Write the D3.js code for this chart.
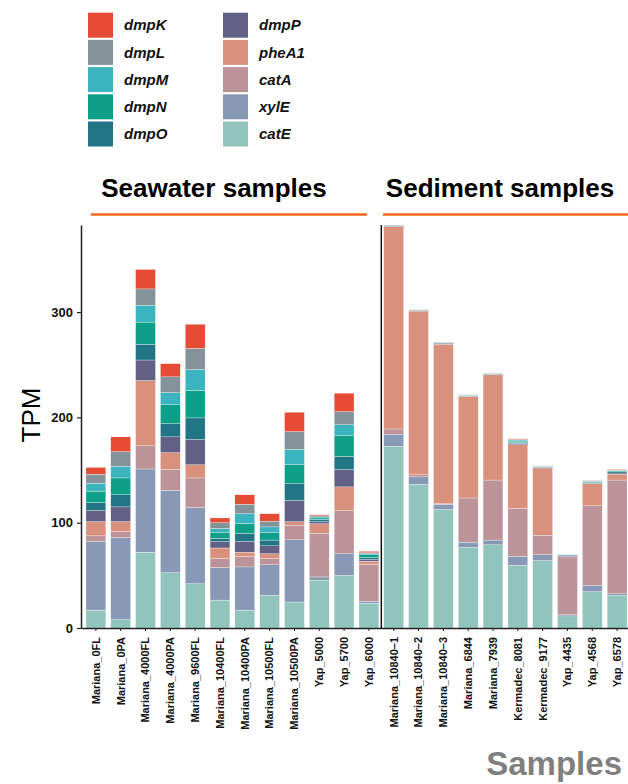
<!DOCTYPE html>
<html>
<head>
<meta charset="utf-8">
<script src="https://cdn.jsdelivr.net/npm/d3@7"></script>
<style>
  body { margin: 0; background: #fff; }
  svg { display: block; font-family: "Liberation Sans", Arial, Helvetica, sans-serif; }
</style>
</head>
<body>
<svg id="chart" width="628" height="784"></svg>
<script>
// samples, left 12 are seawater, right 10 are sediment
const samples = [
  "Mariana_0FL", "Mariana_0PA", "Mariana_4000FL", "Mariana_4000PA", "Mariana_9600FL",
  "Mariana_10400FL", "Mariana_10400PA", "Mariana_10500FL", "Mariana_10500PA",
  "Yap_5000", "Yap_5700", "Yap_6000",
  "Mariana_10840\u20131", "Mariana_10840\u20132", "Mariana_10840\u20133", "Mariana_6844",
  "Mariana_7939", "Kermadec_8081", "Kermadec_9177", "Yap_4435", "Yap_4568", "Yap_6578"
];
const nSeawater = 12;

// genes in legend order (top of stack first)
const genes = ["dmpK", "dmpL", "dmpM", "dmpN", "dmpO", "dmpP", "pheA1", "catA", "xylE", "catE"];
const geneColors = ["#E64B35", "#84929A", "#3CB4C0", "#0E9F88", "#227585",
                    "#626185", "#D9907D", "#BC9398", "#8799B5", "#91C4BD"];

// TPM per gene, one value per sample (same order as samples)
const catE  = [17, 8, 72, 52.5, 42, 26.5, 17, 31, 24.7, 45.5, 50, 23.5,
               172.5, 136.5, 112.5, 76.5, 79, 59.5, 64, 11.5, 34.5, 31];
const xylE  = [65, 78, 79, 78, 72.5, 31, 41, 29, 59, 3, 20.5, 2,
               11.5, 7, 5, 5, 4.5, 8.5, 5.5, 1, 6, 1.5];
const catA  = [5.5, 5.5, 22, 20, 28, 8.5, 10, 6, 14, 41.5, 41, 35,
               5, 2, 0.5, 42, 57, 45.5, 18.5, 55, 75.5, 108];
const pheA1 = [13.5, 9.5, 62, 16, 12.5, 10, 4, 4.5, 3.2, 9, 22.5, 3,
               192, 155.5, 151.5, 96.5, 100, 60.5, 64, 0.3, 21, 5.5];
const dmpP  = [10.5, 14, 19.5, 15, 24, 6, 10.5, 7.5, 20.3, 2, 16.5, 1.5,
               0.5, 0.4, 1, 0.3, 0.2, 1.3, 0.6, 1, 0.6, 1.2];
const dmpO  = [7.5, 11.5, 15, 12.5, 20.5, 3, 7.5, 5.5, 15.8, 2, 12.5, 2,
               0.3, 0.4, 0.6, 0.4, 0.2, 1, 0.5, 0.6, 0.8, 1.3];
const dmpN  = [11, 16, 21, 18, 26, 6, 9.5, 7.5, 18.1, 1.5, 19.5, 2.5,
               0.2, 0.2, 0.2, 0.4, 0.4, 1.2, 0.3, 0.2, 0.8, 0.8];
const dmpM  = [7.5, 11, 16, 11.5, 20, 3.5, 9, 5, 14.6, 1, 10.5, 1,
               0.1, 0.2, 0.1, 0.2, 0.5, 1, 0.2, 0.1, 0.4, 0.4];
const dmpL  = [8.5, 14, 15.5, 15, 20, 5.5, 9, 5.5, 16.8, 1, 12.5, 1,
               0.5, 0.1, 0.1, 0.2, 0.2, 0.6, 0.2, 0.1, 0.3, 0.4];
const dmpK  = [6.5, 14, 18.5, 12.5, 23, 4.5, 9, 7, 18.4, 1, 17.5, 1.3,
               0.1, 0.1, 0, 0.1, 0.1, 0.6, 0.1, 0, 0.2, 0.6];

const geneValues = { dmpK, dmpL, dmpM, dmpN, dmpO, dmpP, pheA1, catA, xylE, catE };

const yTicks = [0, 100, 200, 300];
const groupTitles = ["Seawater samples", "Sediment samples"];

/*
 * Layout
 */
const svg = d3.select("#chart");
const plotLeft = 81;
const plotTop = 225;
const plotBottom = 628;
const plotRight = 632; // panel runs off the right edge

const rows = samples.map((s, i) => {
  const r = { sample: s };
  genes.forEach(g => { r[g] = geneValues[g][i]; });
  return r;
});

// stack from the bottom: catE first, dmpK last
const stackOrder = genes.slice().reverse();
const series = d3.stack().keys(stackOrder)(rows);

const color = d3.scaleOrdinal().domain(genes).range(geneColors);

const x = d3.scaleBand()
  .domain(samples)
  .range([plotLeft, plotRight])
  .paddingInner(0.2)
  .paddingOuter(0.2);

const yMax = d3.max(series[series.length - 1], d => d[1]);
const y = d3.scaleLinear().domain([0, yMax]).range([plotBottom, plotTop]);

// bars
svg.append("g")
  .selectAll("g")
  .data(series)
  .join("g")
  .attr("fill", d => color(d.key))
  .selectAll("rect")
  .data(d => d)
  .join("rect")
  .attr("x", d => x(d.data.sample))
  .attr("width", x.bandwidth())
  .attr("y", d => y(d[1]))
  .attr("height", d => Math.max(0, y(d[0]) - y(d[1])))
  .attr("stroke", "#fff")
  .attr("stroke-width", 0.3);

// y axis
const yAxis = svg.append("g")
  .attr("transform", `translate(${plotLeft},0)`)
  .call(d3.axisLeft(y).tickValues(yTicks).tickSize(4).tickPadding(4).tickSizeOuter(0));
yAxis.select(".domain").attr("stroke", "#222").attr("stroke-width", 1.5);
yAxis.selectAll(".tick line").attr("stroke", "#222").attr("stroke-width", 1.2);
yAxis.selectAll(".tick text")
  .attr("font-size", 13)
  .attr("font-weight", "bold")
  .attr("fill", "#111")
  .attr("font-family", "Liberation Sans, Arial, sans-serif");

// x axis
const xAxis = svg.append("g")
  .attr("transform", `translate(0,${plotBottom})`)
  .call(d3.axisBottom(x).tickSize(3).tickSizeOuter(0));
xAxis.select(".domain").attr("stroke", "#222").attr("stroke-width", 1.5);
xAxis.selectAll(".tick line").attr("stroke", "#222");
xAxis.selectAll(".tick text")
  .attr("font-size", 11)
  .attr("font-weight", "bold")
  .attr("fill", "#111")
  .attr("font-family", "Liberation Sans, Arial, sans-serif")
  .attr("text-anchor", "end")
  .attr("transform", "rotate(-90)")
  .attr("x", -9)
  .attr("y", 0)
  .attr("dy", "0.35em");

// separator between seawater and sediment
const sepX = x(samples[nSeawater]) - x.step() * x.paddingInner() / 2;
svg.append("line")
  .attr("x1", sepX).attr("x2", sepX)
  .attr("y1", plotTop).attr("y2", plotBottom)
  .attr("stroke", "#111")
  .attr("stroke-width", 1.5);

// group headers with orange underline
const groups = [
  { title: groupTitles[0], x0: 91, x1: 367, tx: 214 },
  { title: groupTitles[1], x0: 383, x1: 628, tx: 500 }
];
groups.forEach(g => {
  svg.append("text")
    .attr("x", g.tx)
    .attr("y", 197)
    .attr("text-anchor", "middle")
    .attr("font-size", 26)
    .attr("font-weight", "bold")
    .attr("fill", "#000")
    .text(g.title);
  svg.append("line")
    .attr("x1", g.x0).attr("x2", g.x1)
    .attr("y1", 214.5).attr("y2", 214.5)
    .attr("stroke", "#F26722")
    .attr("stroke-width", 2.5);
});

// axis titles
svg.append("text")
  .attr("transform", "translate(40,415) rotate(-90)")
  .attr("text-anchor", "middle")
  .attr("font-size", 26)
  .attr("fill", "#000")
  .text("TPM");

svg.append("text")
  .attr("x", 622)
  .attr("y", 775)
  .attr("text-anchor", "end")
  .attr("font-size", 33)
  .attr("font-weight", "bold")
  .attr("fill", "#7f7f7f")
  .text("Samples");

// legend, two columns of five
const legend = svg.append("g");
const legendItems = legend.selectAll("g")
  .data(genes)
  .join("g")
  .attr("transform", (d, i) => {
    const col = Math.floor(i / 5);
    const row = i % 5;
    return `translate(${88 + col * 135},${12.7 + row * 27.2})`;
  });
legendItems.append("rect")
  .attr("width", 25)
  .attr("height", 25)
  .attr("fill", d => color(d));
legendItems.append("text")
  .attr("x", 36)
  .attr("y", 12.5)
  .attr("dy", "0.35em")
  .attr("font-size", 15)
  .attr("font-weight", "bold")
  .attr("font-style", "italic")
  .attr("fill", "#111")
  .text(d => d);
</script>
</body>
</html>
